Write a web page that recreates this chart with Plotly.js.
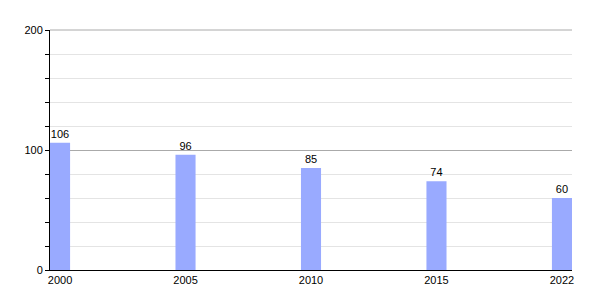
<!DOCTYPE html>
<html><head><meta charset="utf-8">
<script src="https://cdn.plot.ly/plotly-3.0.1.min.js"></script>
<style>html,body{margin:0;padding:0;background:#fff}</style>
</head><body>
<div id="chart" style="width:600px;height:300px"></div>
<script>
var years = ['2000', '2005', '2010', '2015', '2022'];
var values = [106, 96, 85, 74, 60];
var yTickVals = [0, 100, 200];
var yTickText = ['0', '100', '200'];

var barW = 0.16;
var trace = {
  type: 'bar',
  x: years,
  y: values,
  width: barW,
  marker: {color: '#99aaff'},
  text: values.map(String),
  textposition: 'outside',
  textfont: {family: 'Liberation Sans, Arial, sans-serif', size: 11, color: '#000'},
  cliponaxis: false,
  hoverinfo: 'none'
};
var layout = {
  width: 600, height: 300,
  margin: {l: 50, r: 28, t: 30, b: 30},
  paper_bgcolor: '#fff', plot_bgcolor: '#fff',
  showlegend: false,
  font: {family: 'Liberation Sans, Arial, sans-serif', size: 11, color: '#000'},
  xaxis: {
    type: 'category',
    range: [-barW / 2, years.length - 1 + barW / 2],
    showline: true, linecolor: '#000', linewidth: 1,
    ticks: '', showgrid: false, zeroline: false,
    tickfont: {size: 11}
  },
  yaxis: {
    range: [0, 200],
    tickvals: yTickVals, ticktext: yTickText,
    ticks: 'outside', ticklen: 4, tickcolor: '#000',
    showline: true, linecolor: '#000', linewidth: 1,
    showgrid: true, gridcolor: '#aaaaaa', gridwidth: 1,
    zeroline: false,
    minor: {dtick: 20, ticks: 'outside', ticklen: 4, tickcolor: '#000', showgrid: true, gridcolor: '#e4e4e4', gridwidth: 1},
    tickfont: {size: 11}
  },
  shapes: [{
    type: 'line', xref: 'paper', yref: 'paper', x0: 0, x1: 1, y0: 1, y1: 1,
    line: {color: '#aaaaaa', width: 1}, layer: 'below'
  }]
};
Plotly.newPlot('chart', [trace], layout, {staticPlot: true, displayModeBar: false});
</script>
</body></html>
